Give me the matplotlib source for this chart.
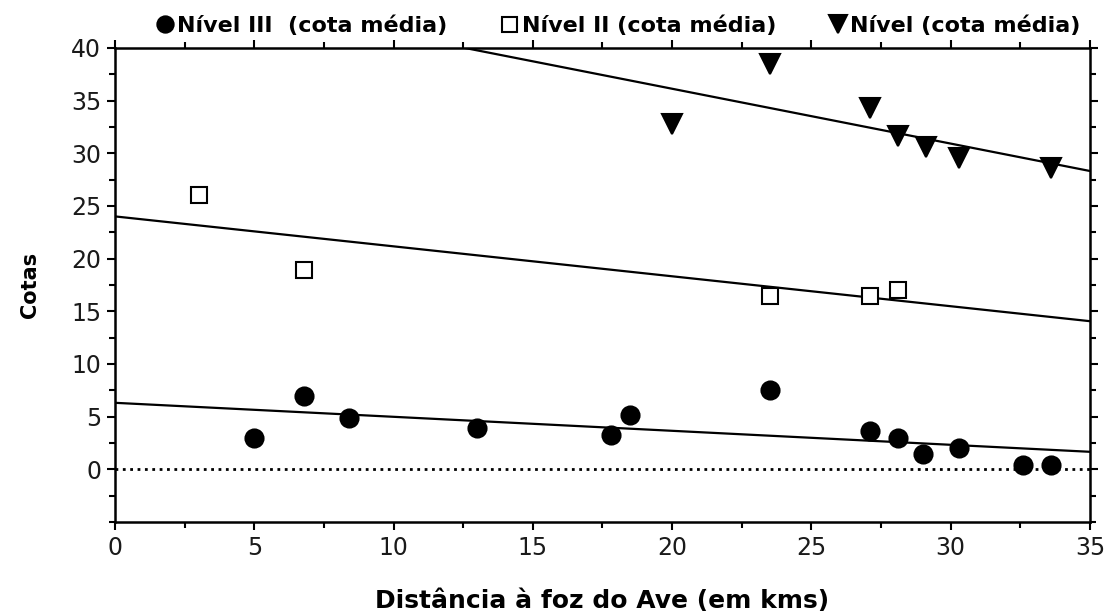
import numpy as np
import matplotlib.pyplot as plt
from matplotlib.ticker import MultipleLocator

# distancia a foz (km) e cotas medias (m)
x_n3 = [5.0, 6.8, 8.4, 13.0, 17.8, 18.5, 23.5, 27.1, 28.1, 29.0, 30.3, 32.6, 33.6]
y_n3 = [3.0, 7.0, 4.9, 3.9, 3.3, 5.2, 7.5, 3.6, 3.0, 1.5, 2.0, 0.4, 0.4]

x_n2 = [3.0, 6.8, 23.5, 27.1, 28.1]
y_n2 = [26.0, 18.9, 16.5, 16.5, 17.0]

x_n1 = [20.0, 23.5, 27.1, 28.1, 29.1, 30.3, 33.6]
y_n1 = [32.8, 38.5, 34.3, 31.6, 30.6, 29.6, 28.6]

labels = ['Nível III  (cota média)', 'Nível II (cota média)', 'Nível (cota média)']

xticks = [0, 5, 10, 15, 20, 25, 30, 35]
yticks = [0, 5, 10, 15, 20, 25, 30, 35, 40]

fig = plt.figure(figsize=(11.06, 6.13), dpi=100)
ax = fig.add_axes([0.104, 0.1485, 0.8815, 0.7732])

xx = np.array([0, 35])
series = [(x_n3, y_n3, 'o', 'black', 13),
          (x_n2, y_n2, 's', 'white', 12),
          (x_n1, y_n1, 'v', 'black', 14)]
handles = []
for (xs, ys, m, fc, ms), lab in zip(series, labels):
    h, = ax.plot(xs, ys, m, mfc=fc, mec='black', mew=1.5, ms=ms, ls='none', label=lab, zorder=3)
    handles.append(h)
    # recta de regressao
    a, b = np.polyfit(xs, ys, 1)
    ax.plot(xx, a * xx + b, color='black', lw=1.6, zorder=2)

ax.axhline(0, color='black', ls=':', lw=2)

ax.set_xlim(0, 35)
ax.set_ylim(-5, 40)
ax.set_xticks(xticks)
ax.set_yticks(yticks)
ax.xaxis.set_minor_locator(MultipleLocator(2.5))
ax.yaxis.set_minor_locator(MultipleLocator(2.5))
ax.tick_params(which='both', direction='out', top=True, right=True, width=1.5,
               labelsize=17, labelcolor='#1a1a1a')
ax.tick_params(which='major', length=6, pad=4)
ax.tick_params(which='minor', length=4)
for s in ax.spines.values():
    s.set_linewidth(1.8)

ax.set_xlabel('Distância à foz do Ave (em kms)', fontsize=18, fontweight='bold', labelpad=21)
ax.set_ylabel('Cotas', fontsize=15, fontweight='bold', labelpad=22)

ax.legend(handles=handles, loc='lower center', bbox_to_anchor=(0.515, 1.0), ncol=3,
          frameon=False, prop={'weight': 'bold', 'size': 16},
          handletextpad=0.05, columnspacing=2.3, markerscale=0.9,
          handlelength=1.0, borderaxespad=0.15)

fig.savefig('out.png', dpi=100)
